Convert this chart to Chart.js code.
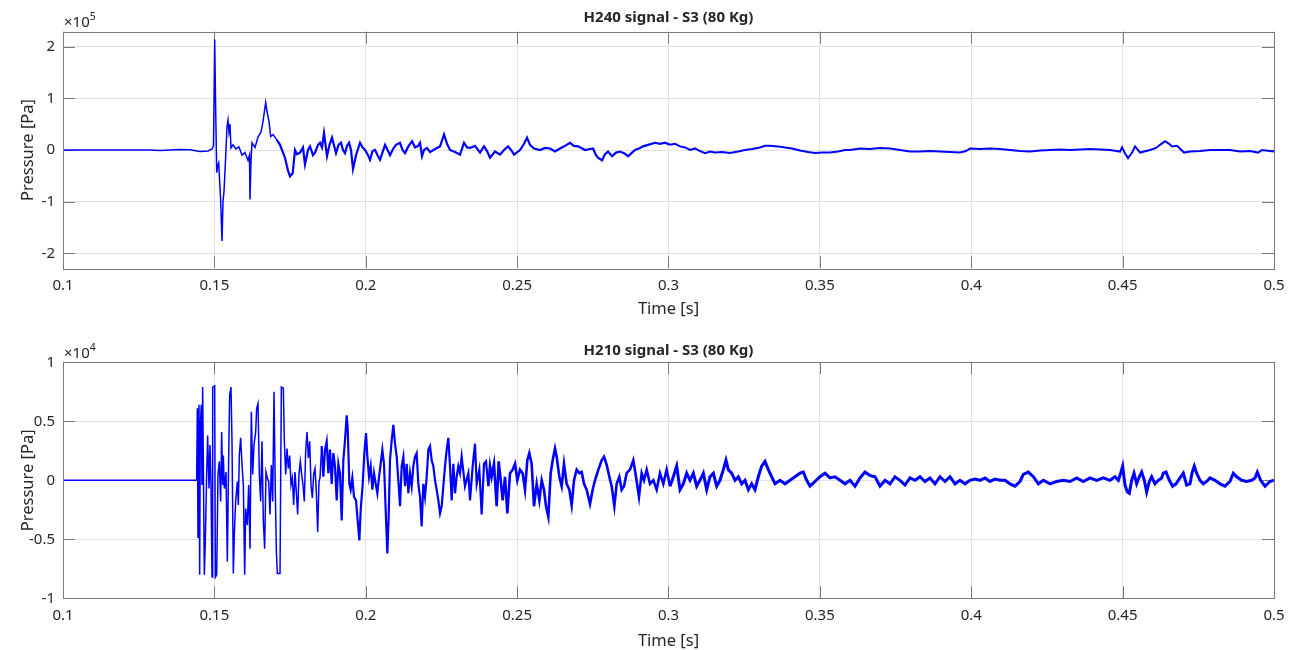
<!DOCTYPE html>
<html>
<head>
<meta charset="utf-8">
<script src="https://cdn.jsdelivr.net/npm/chart.js@4.4.1/dist/chart.umd.min.js"></script>
<style>
  html, body { margin: 0; padding: 0; background: #fff; overflow: hidden; }
  .panel { position: absolute; left: 0; }
</style>
</head>
<body>
<div class="panel" style="top:0"><canvas id="h240" width="1296" height="325"></canvas></div>
<div class="panel" style="top:325px"><canvas id="h210" width="1296" height="332"></canvas></div>
<script>
// time axis ticks (s)
const timeTicks = [0.1, 0.15, 0.2, 0.25, 0.3, 0.35, 0.4, 0.45, 0.5];
// y ticks, in units of the axis multiplier
const h240Ticks = [-2, -1, 0, 1, 2];
const h210Ticks = [-1, -0.5, 0, 0.5, 1];

// H240 signal, pressure in units of 1e5 Pa
const h240Time = [
  0.1, 0.12874, 0.13204, 0.13534, 0.13865, 0.14195, 0.14525, 0.14789, 0.14922, 0.14971,
  0.15011, 0.15037, 0.15077, 0.1511, 0.15143, 0.15169, 0.15202, 0.15252, 0.15285, 0.15318,
  0.15368, 0.15417, 0.1545, 0.15483, 0.15516, 0.15549, 0.15615, 0.15714, 0.15813, 0.15912,
  0.16011, 0.1611, 0.1616, 0.16177, 0.1621, 0.16243, 0.16342, 0.16441, 0.1654, 0.16606,
  0.16695, 0.16738, 0.16804, 0.1686, 0.16937, 0.17059, 0.17168, 0.17333, 0.17432, 0.17498,
  0.17587, 0.17663, 0.17729, 0.17828, 0.17927, 0.17993, 0.18093, 0.18159, 0.18258, 0.18324,
  0.18423, 0.18489, 0.18555, 0.18621, 0.1872, 0.18803, 0.18886, 0.19018, 0.191, 0.19183,
  0.19249, 0.19315, 0.19381, 0.19447, 0.19513, 0.19579, 0.19678, 0.19811, 0.19893, 0.19976,
  0.20058, 0.20141, 0.20224, 0.20306, 0.20389, 0.20472, 0.20637, 0.2072, 0.20802, 0.20901,
  0.21, 0.21132, 0.21215, 0.21297, 0.21397, 0.21529, 0.21628, 0.21727, 0.21793, 0.21859,
  0.21925, 0.22024, 0.22123, 0.22288, 0.22453, 0.22586, 0.22685, 0.22784, 0.22949, 0.23114,
  0.23246, 0.23345, 0.23444, 0.23609, 0.23774, 0.23907, 0.24006, 0.24105, 0.2427, 0.24435,
  0.24567, 0.247, 0.24799, 0.24898, 0.25096, 0.25228, 0.25327, 0.25426, 0.25558, 0.25756,
  0.25921, 0.26086, 0.26252, 0.26417, 0.26582, 0.26747, 0.2688, 0.27012, 0.27243, 0.27408,
  0.27507, 0.27606, 0.27672, 0.27805, 0.27904, 0.28003, 0.28135, 0.28267, 0.284, 0.28532,
  0.28664, 0.28796, 0.28895, 0.2906, 0.29159, 0.29324, 0.29556, 0.29721, 0.29886, 0.30051,
  0.30216, 0.30382, 0.30547, 0.30712, 0.30877, 0.31042, 0.31207, 0.31372, 0.31538, 0.31769,
  0.32033, 0.32298, 0.32529, 0.3276, 0.33024, 0.33189, 0.33355, 0.33619, 0.3385, 0.34081,
  0.34345, 0.3461, 0.34841, 0.35072, 0.35336, 0.35601, 0.35832, 0.35997, 0.36327, 0.36657,
  0.36988, 0.37318, 0.37649, 0.37979, 0.38309, 0.3864, 0.3897, 0.393, 0.39631, 0.39829,
  0.39961, 0.40291, 0.40622, 0.40952, 0.41282, 0.41613, 0.41943, 0.42273, 0.42604, 0.42934,
  0.43264, 0.43595, 0.43925, 0.44255, 0.44586, 0.44916, 0.44982, 0.45081, 0.4518, 0.45312,
  0.45411, 0.45576, 0.45907, 0.46105, 0.46237, 0.46402, 0.46534, 0.46633, 0.46798, 0.4703,
  0.47228, 0.47558, 0.47889, 0.48219, 0.48549, 0.4888, 0.4921, 0.49474, 0.49606, 0.5
];
const h240Pressure = [
  0, 0, -0.01, 0, 0.01, 0.005, -0.03, -0.02, 0.02, 0.08,
  2.14, 1.0, -0.44, -0.3, -0.25, -0.55, -0.9, -1.76, -1.0, -0.8,
  -0.2, 0.45, 0.58, 0.35, 0.5, 0.04, 0.1, 0.02, 0.06, -0.1,
  -0.05, -0.2, -0.1, -0.96, -0.2, 0.14, 0.05, 0.25, 0.35, 0.55,
  0.92, 0.75, 0.55, 0.26, 0.3, 0.2, 0.1, -0.15, -0.4, -0.51,
  -0.45, 0, -0.08, -0.05, 0.05, -0.28, 0, 0.07, -0.1, -0.05,
  0.1, 0.14, 0.05, 0.33, -0.12, 0.1, 0.24, -0.06, 0.1, 0.14,
  0, -0.06, 0.08, 0.14, 0, -0.37, -0.1, 0.14, 0.05, 0,
  -0.08, -0.19, -0.02, 0, -0.1, -0.19, 0.1, 0, -0.1, 0.02,
  0.1, 0.14, 0, -0.06, 0.06, 0.17, 0.05, 0.08, 0.14, -0.12,
  0, 0.04, -0.04, 0.02, 0.07, 0.3, 0.12, 0, -0.04, -0.09,
  0.14, 0.05, 0.04, 0.08, -0.05, 0.07, -0.02, -0.15, -0.03, -0.09,
  0, 0.07, 0, -0.09, 0, 0.12, 0.24, 0.1, 0.03, 0,
  0.04, 0.03, -0.03, 0.03, 0.08, 0.14, 0.08, 0.07, 0, 0.02,
  0.03, -0.1, -0.15, -0.2, -0.08, -0.03, -0.12, -0.05, -0.03, -0.06,
  -0.12, -0.05, 0, 0.04, 0.07, 0.1, 0.14, 0.12, 0.14, 0.1,
  0.12, 0.07, 0.05, 0, 0.03, -0.02, -0.06, -0.03, -0.05, -0.04,
  -0.06, -0.03, 0, 0.02, 0.05, 0.08, 0.08, 0.07, 0.05, 0.03,
  -0.01, -0.04, -0.06, -0.05, -0.05, -0.03, 0, 0, 0.03, 0.02,
  0.04, 0.03, 0, -0.03, -0.03, -0.02, -0.03, -0.04, -0.05, -0.02,
  0.03, 0.02, 0.03, 0.02, 0, -0.02, -0.03, -0.01, 0, 0.01,
  0, 0.01, 0.02, 0.01, 0, -0.03, 0.05, -0.07, -0.16, -0.05,
  0.07, -0.05, 0, 0.04, 0.1, 0.17, 0.12, 0.07, 0.08, -0.05,
  -0.03, -0.02, 0, 0, 0, -0.03, -0.02, -0.05, 0, -0.03
];

// H210 signal, pressure in units of 1e4 Pa
const h210Time = [
  0.1, 0.14415, 0.14437, 0.14459, 0.14492, 0.14514, 0.14536, 0.14569, 0.14591, 0.14613,
  0.14635, 0.14668, 0.14701, 0.14745, 0.14778, 0.14823, 0.14856, 0.14889, 0.14922, 0.14944,
  0.1501, 0.15032, 0.15076, 0.1512, 0.15164, 0.15208, 0.15241, 0.15274, 0.15296, 0.15329,
  0.15384, 0.15428, 0.15472, 0.15505, 0.15549, 0.15582, 0.15626, 0.15659, 0.15703, 0.15758,
  0.15791, 0.15824, 0.15868, 0.15913, 0.15957, 0.16001, 0.16034, 0.16089, 0.16133, 0.16177,
  0.16221, 0.16265, 0.16309, 0.16364, 0.16397, 0.16441, 0.16485, 0.16529, 0.16573, 0.16617,
  0.16661, 0.16705, 0.16749, 0.16793, 0.16837, 0.16882, 0.16926, 0.1697, 0.17014, 0.17047,
  0.1708, 0.17168, 0.17212, 0.17278, 0.17311, 0.17355, 0.17399, 0.17443, 0.17487, 0.17531,
  0.17575, 0.17619, 0.17663, 0.17707, 0.17751, 0.17795, 0.17839, 0.17883, 0.17927, 0.17971,
  0.18015, 0.1806, 0.18104, 0.18148, 0.18192, 0.18236, 0.1828, 0.18324, 0.18368, 0.18412,
  0.18456, 0.18489, 0.18544, 0.18599, 0.18654, 0.1871, 0.18765, 0.1882, 0.18875, 0.1893,
  0.18985, 0.1904, 0.19095, 0.1915, 0.19205, 0.1926, 0.19315, 0.1937, 0.19403, 0.19458,
  0.19502, 0.19557, 0.19612, 0.19678, 0.19733, 0.19789, 0.19833, 0.19899, 0.19954, 0.20009,
  0.20053, 0.20108, 0.20163, 0.20218, 0.20273, 0.20328, 0.20383, 0.20438, 0.20493, 0.20548,
  0.20603, 0.20658, 0.20713, 0.20757, 0.20801, 0.20857, 0.20912, 0.20967, 0.21022, 0.21077,
  0.21132, 0.21187, 0.21242, 0.21297, 0.21352, 0.21407, 0.21462, 0.21517, 0.21572, 0.21627,
  0.21682, 0.21737, 0.21792, 0.21847, 0.21902, 0.21957, 0.22013, 0.22068, 0.22123, 0.22178,
  0.22233, 0.22288, 0.22343, 0.22398, 0.22453, 0.22508, 0.22563, 0.22618, 0.22673, 0.22728,
  0.22783, 0.22838, 0.22893, 0.22948, 0.23003, 0.23058, 0.23113, 0.23168, 0.23278, 0.23389,
  0.23444, 0.23532, 0.23609, 0.23664, 0.23752, 0.23829, 0.23906, 0.23972, 0.24049, 0.24104,
  0.24159, 0.24236, 0.24324, 0.2439, 0.24434, 0.24522, 0.246, 0.24677, 0.24765, 0.24853,
  0.2493, 0.25007, 0.25095, 0.25183, 0.2526, 0.25337, 0.25403, 0.2548, 0.25557, 0.25646,
  0.25734, 0.25811, 0.25888, 0.25954, 0.26031, 0.26108, 0.26174, 0.26251, 0.26306, 0.26394,
  0.26471, 0.26548, 0.26636, 0.26725, 0.26802, 0.26879, 0.26967, 0.27055, 0.27132, 0.27209,
  0.27297, 0.27407, 0.27495, 0.27572, 0.27683, 0.27793, 0.2787, 0.27958, 0.28046, 0.28123,
  0.28211, 0.28288, 0.28376, 0.28453, 0.2853, 0.28618, 0.28728, 0.28838, 0.28926, 0.29025,
  0.29114, 0.29191, 0.29279, 0.29389, 0.29499, 0.29609, 0.29719, 0.29829, 0.29939, 0.3005,
  0.3016, 0.3027, 0.3038, 0.3049, 0.306, 0.3071, 0.3082, 0.3093, 0.3104, 0.31151,
  0.31261, 0.31371, 0.31481, 0.31591, 0.31701, 0.31811, 0.31899, 0.31976, 0.32086, 0.32197,
  0.32307, 0.32417, 0.32527, 0.32637, 0.32747, 0.32857, 0.32967, 0.33077, 0.33187, 0.33297,
  0.33408, 0.33518, 0.33683, 0.33848, 0.34013, 0.34178, 0.34343, 0.34454, 0.34564, 0.34674,
  0.34839, 0.35004, 0.35169, 0.35334, 0.35499, 0.35665, 0.3583, 0.35995, 0.3616, 0.36325,
  0.3649, 0.36656, 0.36821, 0.36986, 0.37151, 0.37316, 0.37481, 0.37647, 0.37812, 0.37977,
  0.38142, 0.38307, 0.38472, 0.38637, 0.38803, 0.38968, 0.39133, 0.39298, 0.39463, 0.39628,
  0.39793, 0.39959, 0.40124, 0.40289, 0.40454, 0.40619, 0.40784, 0.4095, 0.41115, 0.4128,
  0.41445, 0.4161, 0.4172, 0.41885, 0.42051, 0.42216, 0.42381, 0.42601, 0.42821, 0.43041,
  0.43262, 0.43482, 0.43702, 0.43922, 0.44142, 0.44363, 0.44583, 0.44748, 0.44858, 0.44935,
  0.45001, 0.45078, 0.45155, 0.45221, 0.45298, 0.45376, 0.45464, 0.45552, 0.45629, 0.45717,
  0.45794, 0.45882, 0.45959, 0.46069, 0.46179, 0.46289, 0.46344, 0.46433, 0.46543, 0.46653,
  0.46763, 0.46895, 0.47005, 0.47115, 0.47225, 0.47291, 0.47368, 0.47445, 0.47556, 0.47666,
  0.47776, 0.47886, 0.48051, 0.48216, 0.48381, 0.48546, 0.48657, 0.48767, 0.48932, 0.49097,
  0.49262, 0.49372, 0.49449, 0.49559, 0.49702, 0.49868, 0.5
];
const h210Pressure = [
  0, 0, 0.61, -0.49, 0.64, -0.8, 0.47, 0.64, -0.04, 0.79,
  0.16, -0.8, -0.52, 0.05, 0.38, -0.07, 0.3, -0.04, -0.82, 0.79,
  0.8, -0.82, -0.8, 0.05, 0.16, -0.18, 0.41, -0.04, 0.21, -0.07,
  0.07, -0.69, 0.19, 0.72, 0.79, 0.33, -0.79, -0.46, -0.18, -0.01,
  -0.21, 0.21, 0.36, 0.13, -0.04, -0.8, -0.24, -0.38, -0.04, -0.58,
  0.58, 0.05, 0.3, 0.41, 0.61, 0.65, 0.05, -0.18, 0.33, -0.35,
  -0.58, 0.07, 0.02, -0.01, -0.29, 0.13, -0.18, 0.75, -0.12, -0.6,
  -0.79, -0.79, 0.79, 0.78, 0.33, 0.05, 0.27, 0.1, 0.21, -0.04,
  0.02, -0.21, 0.07, -0.1, -0.29, 0.05, 0.16, 0.05, -0.04, -0.18,
  0.24, 0.41, 0.19, 0.33, -0.04, -0.15, 0.05, 0.1, -0.1, -0.44,
  -0.01, 0.02, 0.29, 0.03, 0.26, 0.33, 0.06, 0.26, -0.03, 0.23,
  0.12, -0.17, 0.14, 0.06, -0.34, 0.17, 0.34, 0.55, 0.45, -0.03,
  -0.08, 0.02, -0.14, -0.17, -0.34, -0.51, -0.25, -0.03, 0.23, 0.4,
  0.2, 0.03, 0.12, -0.08, 0.06, -0.03, -0.11, 0.03, 0.14, 0.26,
  0.14, -0.25, -0.62, -0.31, 0.17, 0.34, 0.47, 0.31, 0.2, 0,
  -0.22, 0.12, 0.2, -0.05, 0.14, -0.11, 0.06, -0.05, 0.12, 0.2,
  0.23, -0.03, -0.14, -0.39, -0.03, -0.14, 0.03, 0.26, 0.29, 0.17,
  0.12, 0, -0.08, -0.17, -0.28, -0.22, -0.05, 0.12, 0.26, 0.36,
  0.12, -0.17, 0.14, -0.11, 0.03, 0.12, 0.06, 0.2, -0.05, 0.06,
  -0.17, 0.12, 0.31, -0.03, 0.09, -0.29, 0.14, 0.16, -0.05, 0.12,
  0.03, 0.14, -0.22, 0.16, 0.06, -0.17, 0.03, -0.28, 0.06, 0.09,
  0.14, 0, 0.09, 0.06, -0.08, 0.17, 0.23, 0.14, -0.22, -0.03,
  -0.17, 0, -0.08, -0.22, -0.31, 0.06, 0.17, 0.27, 0.2, 0.03,
  -0.05, 0.14, -0.03, -0.08, -0.21, 0, 0.09, 0.06, 0.07, -0.03,
  -0.08, -0.2, -0.08, 0, 0.09, 0.17, 0.2, 0.13, 0.03, -0.05,
  -0.22, -0.03, 0.03, -0.08, -0.05, 0.06, 0.09, 0.17, 0.03, -0.14,
  0.06, 0, 0.09, -0.03, 0, -0.08, 0.06, -0.03, 0.09, -0.05,
  0.03, 0.12, -0.08, -0.03, 0.06, 0, 0.06, -0.05, 0, 0.06,
  -0.08, 0.03, 0.06, -0.05, 0, 0.09, 0.17, 0.09, 0.06, 0,
  0.03, -0.03, 0, -0.08, -0.03, -0.08, 0.03, 0.12, 0.16, 0.09,
  0.03, -0.03, 0, -0.03, 0, 0.03, 0.06, 0.07, 0, -0.05,
  -0.01, 0.03, 0.06, 0.02, 0.03, 0, -0.03, 0, -0.05, 0.02,
  0.07, 0.04, 0.03, -0.05, 0, -0.03, 0.03, 0, -0.04, 0.02,
  0, 0.03, -0.01, 0.02, -0.03, 0.03, -0.01, 0.03, -0.03, 0,
  -0.03, 0, 0.01, 0, 0.02, -0.01, 0.01, 0, 0, -0.03,
  -0.05, -0.01, 0.05, 0.07, 0.03, -0.03, 0, -0.03, -0.01, 0,
  -0.01, 0.02, -0.01, 0.02, 0, 0.02, 0, 0.03, 0, 0.06,
  0.12, -0.04, -0.1, -0.11, 0, 0.06, -0.03, 0.03, 0.07, 0,
  -0.1, -0.01, 0.03, -0.03, 0, 0.02, 0.06, 0.07, 0, -0.05,
  -0.03, 0.02, 0.06, -0.04, -0.03, 0.06, 0.12, 0.06, 0, -0.03,
  -0.01, 0.02, 0, -0.03, -0.05, -0.01, 0.06, 0.03, 0, -0.01,
  0, 0.02, 0.07, 0, -0.05, -0.01, 0
];

const FONT = "'Noto Sans', 'Open Sans', sans-serif";
const INK = '#262626';
const FRAME = '#7a7a7a';
const GRID = '#e2e2e2';
const TICK_LEN = 12;

function tickText(v) {
  return String(Math.round(v * 1000) / 1000);
}

// MATLAB-like box: inward ticks under the data, frame, title and exponent on top
const matlabBox = {
  id: 'matlabBox',
  beforeDatasetsDraw(chart, args, o) {
    const { ctx, chartArea: a, scales } = chart;
    ctx.save();
    ctx.strokeStyle = FRAME;
    ctx.lineWidth = 1;
    ctx.beginPath();
    timeTicks.forEach(v => {
      const x = Math.round(scales.x.getPixelForValue(v)) + 0.5;
      ctx.moveTo(x, a.bottom); ctx.lineTo(x, a.bottom - TICK_LEN);
      ctx.moveTo(x, a.top); ctx.lineTo(x, a.top + TICK_LEN);
    });
    o.yTicks.forEach(v => {
      const y = Math.round(scales.y.getPixelForValue(v)) + 0.5;
      ctx.moveTo(a.left, y); ctx.lineTo(a.left + TICK_LEN, y);
      ctx.moveTo(a.right, y); ctx.lineTo(a.right - TICK_LEN, y);
    });
    ctx.stroke();
    ctx.restore();
  },
  afterDraw(chart, args, o) {
    const { ctx, chartArea: a } = chart;
    ctx.save();
    ctx.strokeStyle = FRAME;
    ctx.lineWidth = 1;
    ctx.strokeRect(Math.round(a.left) + 0.5, Math.round(a.top) + 0.5,
      Math.round(a.right - a.left), Math.round(a.bottom - a.top));

    ctx.fillStyle = INK;
    ctx.textBaseline = 'middle';
    ctx.textAlign = 'center';
    ctx.font = 'bold 15px ' + FONT;
    ctx.fillText(o.title, (a.left + a.right) / 2, o.titleY);

    ctx.textAlign = 'left';
    ctx.font = '15px ' + FONT;
    const base = '\u00d710';
    ctx.fillText(base, a.left + 1, a.top - 9);
    const w = ctx.measureText(base).width;
    ctx.font = '10.5px ' + FONT;
    ctx.fillText(o.exponent, a.left + 1 + w, a.top - 14.5);
    ctx.restore();
  }
};

function makeChart(id, cfg) {
  const canvas = document.getElementById(id);
  const points = cfg.time.map((t, i) => ({ x: t, y: cfg.pressure[i] }));
  // the densely sampled noisy tail reads as a thicker trace
  const widthAt = t => {
    let w = cfg.lineWidth;
    cfg.widths.forEach(([from, width]) => { if (t >= from) w = width; });
    return w;
  };
  return new Chart(canvas, {
    type: 'line',
    data: {
      datasets: [{
        data: points,
        borderColor: '#0000ff',
        borderWidth: cfg.lineWidth,
        pointRadius: 0,
        tension: 0,
        fill: false,
        segment: { borderWidth: c => widthAt(c.p0.parsed.x) }
      }]
    },
    options: {
      responsive: false,
      animation: false,
      devicePixelRatio: 1,
      events: [],
      layout: { padding: { top: cfg.top, left: 0, right: 22, bottom: 0 } },
      plugins: {
        legend: { display: false },
        tooltip: { enabled: false },
        title: { display: false },
        matlabBox: { title: cfg.title, exponent: cfg.exponent, titleY: cfg.titleY, yTicks: cfg.yTicks }
      },
      scales: {
        x: {
          type: 'linear',
          min: 0.1,
          max: 0.5,
          afterBuildTicks: s => { s.ticks = timeTicks.map(v => ({ value: v })); },
          afterFit: s => { s.height = canvas.height - cfg.bottom; },
          grid: { color: GRID, lineWidth: 1, drawTicks: false },
          border: { display: false },
          ticks: {
            color: INK, padding: 8, autoSkip: false, maxRotation: 0,
            font: { family: FONT, size: 15 },
            callback: tickText
          },
          title: {
            display: true, text: 'Time [s]', color: INK,
            font: { family: FONT, size: 16.5 },
            padding: { top: 0, bottom: 6 }
          }
        },
        y: {
          type: 'linear',
          min: cfg.yMin,
          max: cfg.yMax,
          afterBuildTicks: s => { s.ticks = cfg.yTicks.map(v => ({ value: v })); },
          afterFit: s => { s.width = 63; },
          grid: { color: GRID, lineWidth: 1, drawTicks: false },
          border: { display: false },
          ticks: {
            color: INK, padding: 8,
            font: { family: FONT, size: 15 },
            callback: tickText
          },
          title: {
            display: true, text: 'Pressure [Pa]', color: INK,
            font: { family: FONT, size: 16.5 },
            padding: { top: 18.6, bottom: 0 }
          }
        }
      }
    },
    plugins: [matlabBox]
  });
}

makeChart('h240', {
  title: 'H240 signal - S3 (80 Kg)', exponent: '5',
  time: h240Time, pressure: h240Pressure, yTicks: h240Ticks,
  yMin: -2.29, yMax: 2.29, top: 31.7, bottom: 268.3, titleY: 18,
  lineWidth: 1.5, widths: [[0.17, 2.2], [0.3, 2]]
});
makeChart('h210', {
  title: 'H210 signal - S3 (80 Kg)', exponent: '4',
  time: h210Time, pressure: h210Pressure, yTicks: h210Ticks,
  yMin: -1, yMax: 1, top: 37.3, bottom: 273.3, titleY: 26,
  lineWidth: 1.5, widths: [[0.185, 2.2], [0.24, 2.6], [0.3, 3]]
});
</script>
</body>
</html>
